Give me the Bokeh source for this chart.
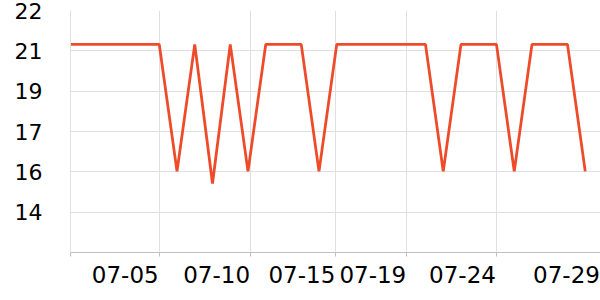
from bokeh.plotting import figure
from bokeh.models import Range1d, FixedTicker, LinearAxis
from bokeh.embed import file_html
from bokeh.resources import INLINE

dates = ["06-30"] + [f"07-{d:02d}" for d in range(1, 30)]
values = [20.6, 20.6, 20.6, 20.6, 20.6, 20.6, 15.35, 20.6, 14.85, 20.6,
          15.35, 20.6, 20.6, 20.6, 15.35, 20.6, 20.6, 20.6, 20.6, 20.6,
          20.6, 15.35, 20.6, 20.6, 20.6, 15.35, 20.6, 20.6, 20.6, 15.35]
x_tick_pos = [0, 5, 10.15, 14.95, 18.95, 24, 29.86]
x_tick_labels = ["", "07-05", "07-10", "07-15", "07-19", "07-24", "07-29"]
y_tick_pos = [12, 12 + 10 / 6, 12 + 20 / 6, 17, 12 + 40 / 6, 12 + 50 / 6, 22]
y_tick_labels = ["", "14", "16", "17", "19", "21", "22"]

xs = list(range(len(dates)))
X_MAX = 29.86
FRAME_W = 530

p = figure(width=600, height=300, output_backend="svg", toolbar_location=None,
           x_range=Range1d(0, X_MAX), y_range=Range1d(12, 22),
           min_border_left=70, min_border_right=0, min_border_top=10,
           min_border_bottom=48)
p.outline_line_color = None
p.background_fill_color = "white"
p.border_fill_color = "white"

p.line(xs, values, line_color="#ee4b2b", line_width=2.8)

# axis with tick marks / gridlines at the tick positions, no labels
p.xaxis.ticker = FixedTicker(ticks=x_tick_pos)
p.xaxis.major_label_overrides = {t: "" for t in x_tick_pos}
p.xaxis.major_label_text_font_size = "0px"
p.xaxis.major_label_standoff = 0
p.xaxis.axis_line_color = "#c0c0c0"
p.xaxis.major_tick_line_color = "#c0c0c0"
p.xaxis.major_tick_in = 0
p.xaxis.major_tick_out = 4
p.xaxis.minor_tick_line_color = None

# labels right-aligned to their ticks: centre them half a label width to the left
shift = 34.0 / (FRAME_W / X_MAX)
lab_pos = [t - shift for t in x_tick_pos]
lab_axis = LinearAxis(ticker=FixedTicker(ticks=lab_pos),
                      major_label_overrides={t: l for t, l in zip(lab_pos, x_tick_labels)},
                      axis_line_color=None, major_tick_line_color=None,
                      minor_tick_line_color=None, major_label_standoff=3,
                      major_label_text_font="DejaVu Sans",
                      major_label_text_font_size="23px",
                      major_label_text_color="#000000")
p.add_layout(lab_axis, "below")

p.yaxis.ticker = FixedTicker(ticks=y_tick_pos)
p.yaxis.major_label_overrides = {t: l for t, l in zip(y_tick_pos, y_tick_labels)}
p.yaxis.major_label_text_font = "DejaVu Sans"
p.yaxis.major_label_text_font_size = "22px"
p.yaxis.major_label_text_color = "#000000"
p.yaxis.axis_line_color = "#e0e0e0"
p.yaxis.major_tick_line_color = None
p.yaxis.minor_tick_line_color = None
p.yaxis.major_tick_in = 0
p.yaxis.major_tick_out = 0
p.yaxis.major_label_standoff = 28

p.xgrid.ticker = FixedTicker(ticks=x_tick_pos)
p.xgrid.grid_line_color = "#e0e0e0"
p.ygrid.grid_line_color = "#e0e0e0"

open("out.html", "w").write(file_html(p, INLINE))
